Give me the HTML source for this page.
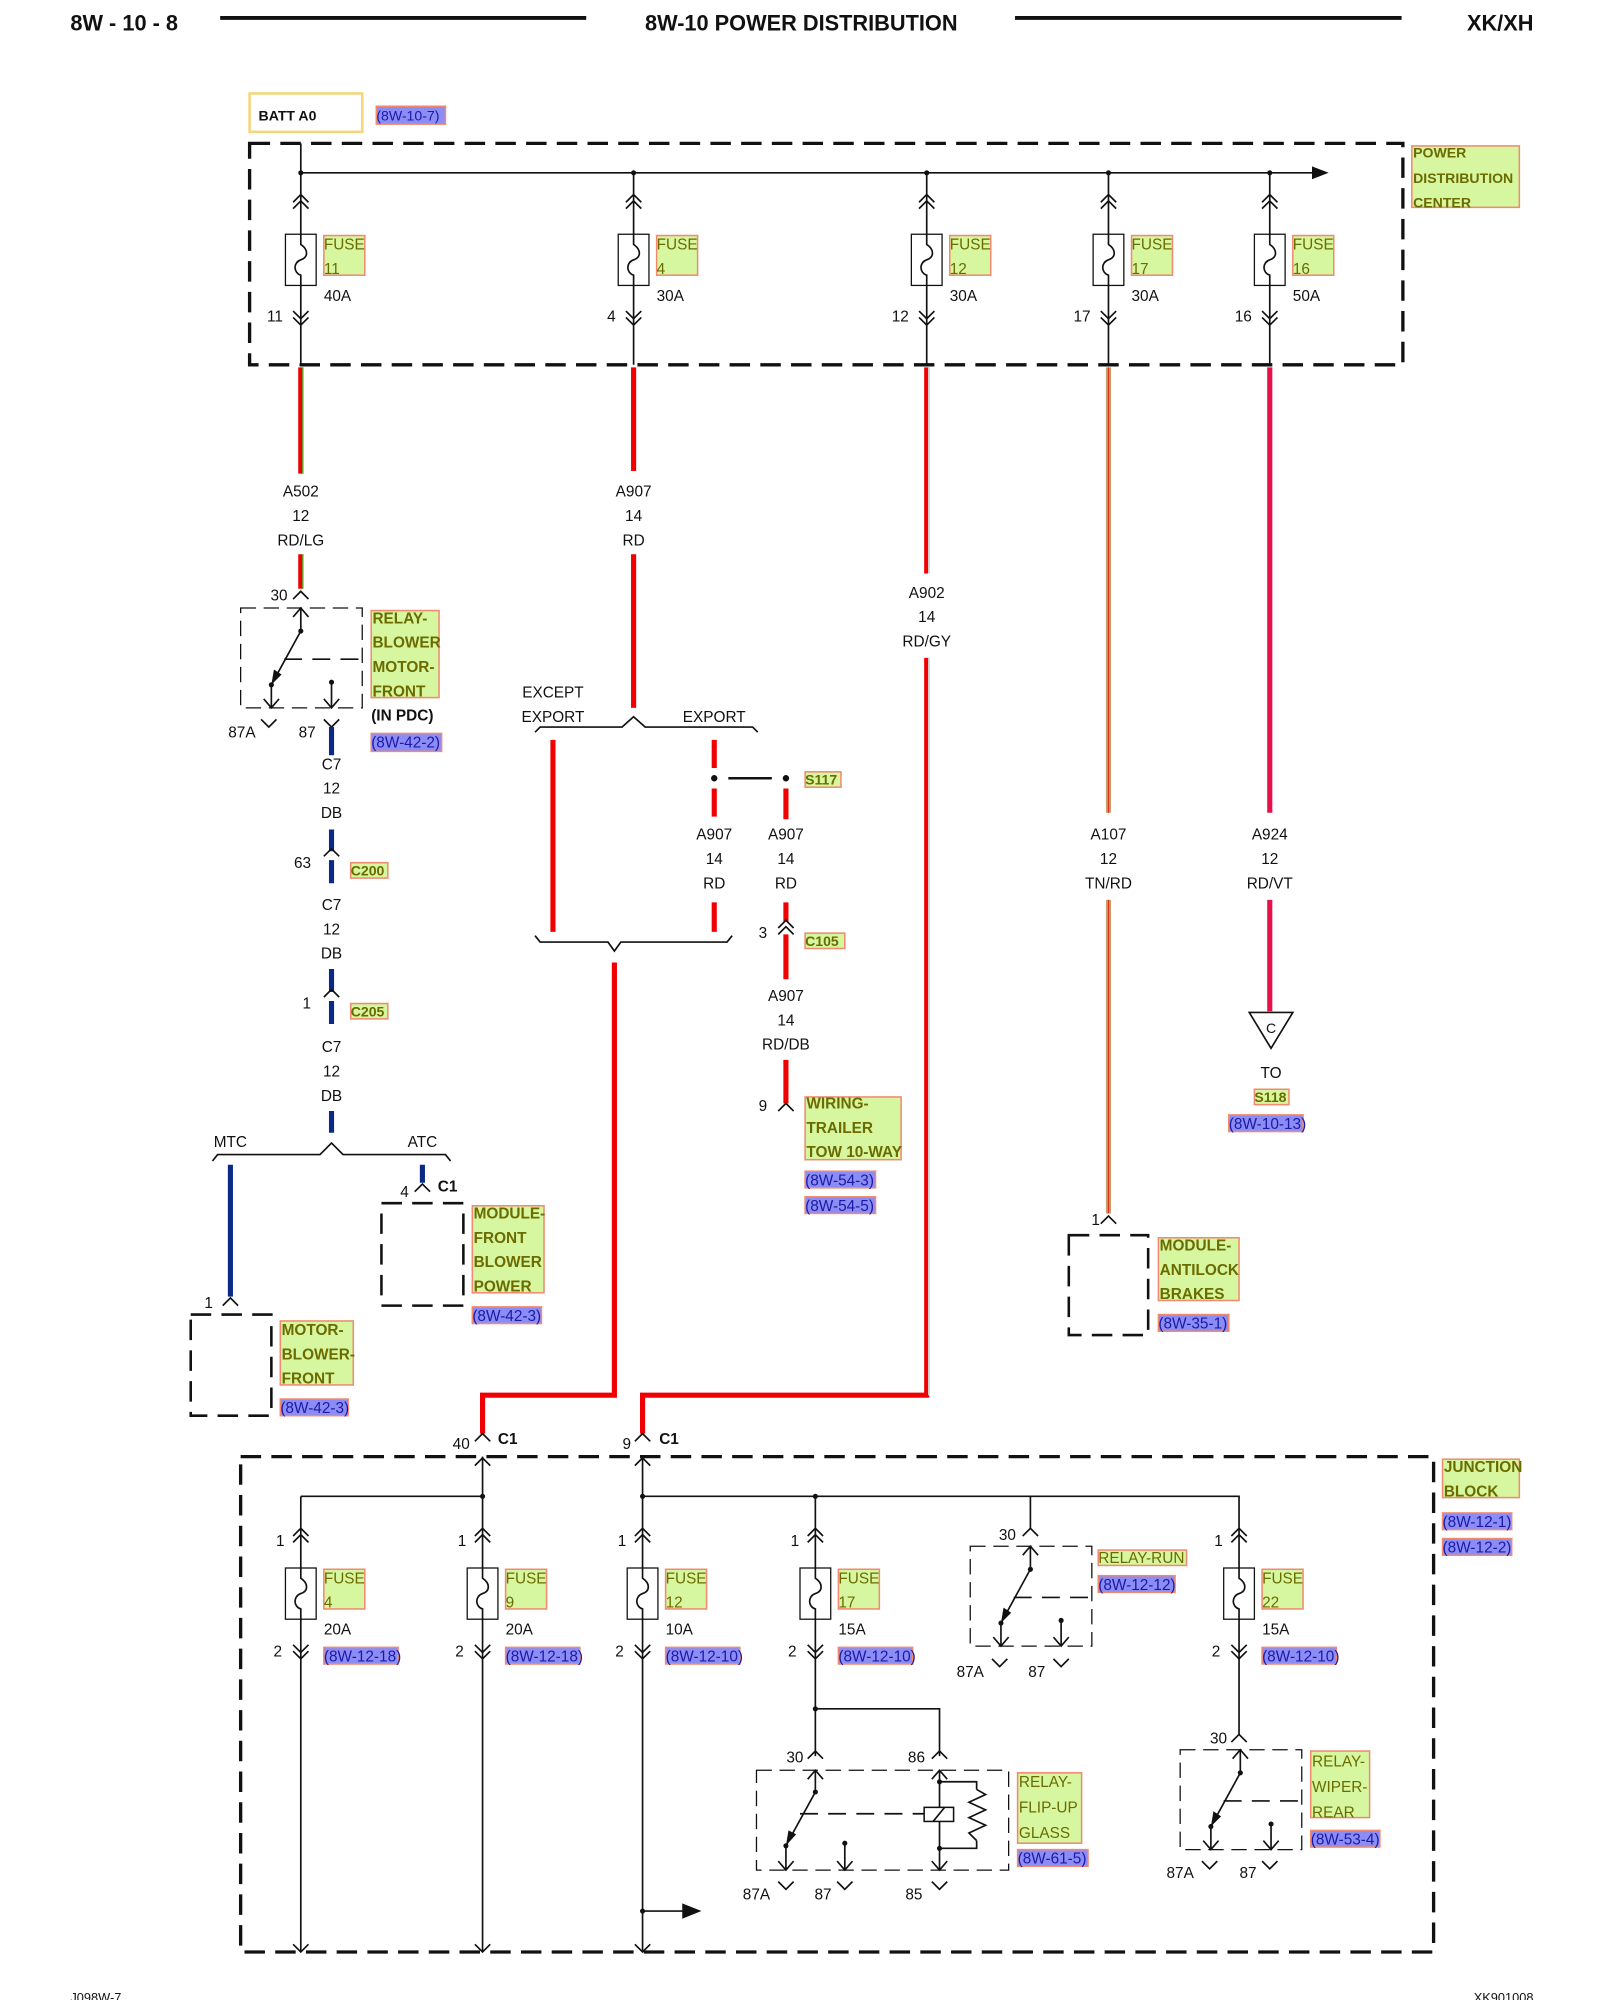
<!DOCTYPE html>
<html><head><meta charset="utf-8"><style>
html,body{margin:0;padding:0;background:#fff}
svg{display:block}
text{font-family:"Liberation Sans",Arial,sans-serif;font-size:12px;fill:#111}
.b{font-weight:bold}
.g{fill:#6b6b00}
.bl{fill:#1a1aa8}
.gb{fill:#d6f7a0;stroke:#f08a70;stroke-width:1.2}
.bb{fill:#8c8cf5;stroke:#f08a70;stroke-width:1.2}
.k{stroke:#111;stroke-width:1.3;fill:none}
.d{stroke:#111;stroke-width:1;fill:none;stroke-dasharray:12 6}
.D{stroke:#111;stroke-width:2.6;fill:none;stroke-dasharray:16 8}
.r{stroke:#f00000;stroke-width:4;fill:none}
.n{stroke:#0a2a86;stroke-width:4;fill:none}
</style></head><body>
<svg width="1600" height="2000" viewBox="0 0 1250 1562.5" xmlns="http://www.w3.org/2000/svg">
<defs>
<g id="cu"><path class="k" d="M-6,6 L0,0 L6,6 M-6,11 L0,5 L6,11"/></g>
<g id="cd"><path class="k" d="M-6,-6 L0,0 L6,-6 M-6,-11 L0,-5 L6,-11"/></g>
<g id="su"><path class="k" d="M-6,6 L0,0 L6,6"/></g>
<g id="sd"><path class="k" d="M-6,-6 L0,0 L6,-6"/></g>
<g id="fuse"><rect x="-12" y="0" width="24" height="40" fill="#fff" stroke="#111" stroke-width="1"/><path class="k" d="M0,0 V8 C6,12 6,18 0,20 C-6,22 -6,30 0,32 V40"/></g>
<g id="relay">
<path class="d" d="M0,0 H95 V78 H0 Z"/>
<path class="k" d="M47,0 V18 M47,18 L24,60 M24,60 V78 M71,58 V78"/>
<path d="M24,60 L26,48 L32,52 Z" fill="#111"/>
<path class="k" d="M41,7 L47,0 L53,7 M18,71 L24,78 L30,71 M65,71 L71,78 L77,71"/>
<circle cx="47" cy="18" r="2" fill="#111"/><circle cx="24" cy="60" r="2" fill="#111"/><circle cx="71" cy="58" r="2" fill="#111"/>
<path class="k" d="M34,40 H95" stroke-dasharray="14 8"/>
</g>
</defs>

<!-- header -->
<text x="55" y="24" class="b" style="font-size:17px">8W - 10 - 8</text>
<line x1="172" y1="14" x2="458" y2="14" stroke="#111" stroke-width="3"/>
<text x="626" y="24" class="b" text-anchor="middle" style="font-size:17px">8W-10 POWER DISTRIBUTION</text>
<line x1="793" y1="14" x2="1095" y2="14" stroke="#111" stroke-width="3"/>
<text x="1198" y="24" class="b" text-anchor="end" style="font-size:17px">XK/XH</text>
<text x="55" y="1564" style="font-size:10px">J098W-7</text>
<text x="1198" y="1564" text-anchor="end" style="font-size:10px">XK901008</text>

<!-- BATT -->
<rect x="195" y="73" width="88" height="30" fill="#fff" stroke="#f5d67a" stroke-width="2"/>
<text x="202" y="94" class="b" style="font-size:11px">BATT A0</text>
<rect class="bb" x="294" y="83" width="54" height="14"/><text x="294" y="94" class="bl" style="font-size:11px">(8W-10-7)</text>

<!-- PDC -->
<path class="D" d="M195,112 H1096 V285 H195 Z"/>
<rect class="gb" x="1103" y="114" width="84" height="48"/>
<text x="1104" y="123" class="g b" style="font-size:11px">POWER</text><text x="1104" y="143" class="g b" style="font-size:11px">DISTRIBUTION</text><text x="1104" y="162" class="g b" style="font-size:11px">CENTER</text>
<path class="k" d="M235,112 V135 H1025"/><path d="M1025,130 L1038,135 L1025,140 Z" fill="#111"/>

<!-- PDC fuses -->
<g>
<circle cx="235" cy="135" r="2" fill="#111"/><circle cx="495" cy="135" r="2" fill="#111"/><circle cx="724" cy="135" r="2" fill="#111"/><circle cx="866" cy="135" r="2" fill="#111"/><circle cx="992" cy="135" r="2" fill="#111"/>
<path class="k" d="M235,135 V285 M495,135 V285 M724,135 V285 M866,135 V285 M992,135 V285"/>
</g>
<g transform="translate(235,0)"><use href="#cu" y="152"/><use href="#fuse" y="183"/><use href="#cd" y="254"/><rect class="gb" x="18" y="184" width="32" height="31"/><text x="18" y="195" class="g">FUSE</text><text x="18" y="214" class="g">11</text><text x="18" y="235">40A</text><text x="-14" y="251" text-anchor="end">11</text></g>
<g transform="translate(495,0)"><use href="#cu" y="152"/><use href="#fuse" y="183"/><use href="#cd" y="254"/><rect class="gb" x="18" y="184" width="32" height="31"/><text x="18" y="195" class="g">FUSE</text><text x="18" y="214" class="g">4</text><text x="18" y="235">30A</text><text x="-14" y="251" text-anchor="end">4</text></g>
<g transform="translate(724,0)"><use href="#cu" y="152"/><use href="#fuse" y="183"/><use href="#cd" y="254"/><rect class="gb" x="18" y="184" width="32" height="31"/><text x="18" y="195" class="g">FUSE</text><text x="18" y="214" class="g">12</text><text x="18" y="235">30A</text><text x="-14" y="251" text-anchor="end">12</text></g>
<g transform="translate(866,0)"><use href="#cu" y="152"/><use href="#fuse" y="183"/><use href="#cd" y="254"/><rect class="gb" x="18" y="184" width="32" height="31"/><text x="18" y="195" class="g">FUSE</text><text x="18" y="214" class="g">17</text><text x="18" y="235">30A</text><text x="-14" y="251" text-anchor="end">17</text></g>
<g transform="translate(992,0)"><use href="#cu" y="152"/><use href="#fuse" y="183"/><use href="#cd" y="254"/><rect class="gb" x="18" y="184" width="32" height="31"/><text x="18" y="195" class="g">FUSE</text><text x="18" y="214" class="g">16</text><text x="18" y="235">50A</text><text x="-14" y="251" text-anchor="end">16</text></g>

<!-- A502 -->
<path class="r" d="M235,287 V370 M235,433 V460"/><path d="M236.5,287 V370 M236.5,433 V460" stroke="#5aa02a" stroke-width="1"/>
<text x="235" y="388" text-anchor="middle">A502</text><text x="235" y="407" text-anchor="middle">12</text><text x="235" y="426" text-anchor="middle">RD/LG</text>
<use href="#su" x="235" y="462"/><text x="218" y="469" text-anchor="middle">30</text>
<use href="#relay" x="188" y="475"/>
<rect class="gb" x="290" y="477" width="53" height="68"/>
<text x="291" y="487" class="g b">RELAY-</text><text x="291" y="506" class="g b">BLOWER</text><text x="291" y="525" class="g b">MOTOR-</text><text x="291" y="544" class="g b">FRONT</text>
<text x="290" y="563" class="b">(IN PDC)</text>
<rect class="bb" x="290" y="573" width="55" height="14"/><text x="290" y="584" class="bl">(8W-42-2)</text>
<use href="#sd" x="210" y="568"/><text x="189" y="576" text-anchor="middle">87A</text>
<use href="#sd" x="259" y="568"/><text x="240" y="576" text-anchor="middle">87</text>

<!-- C7 blue -->
<path class="n" d="M259,568 V590 M259,648 V665 M259,672 V690 M259,757 V775 M259,782 V800 M259,868 V885"/>
<text x="259" y="601" text-anchor="middle">C7</text><text x="259" y="620" text-anchor="middle">12</text><text x="259" y="639" text-anchor="middle">DB</text>
<use href="#su" x="259" y="663"/><text x="243" y="678" text-anchor="end">63</text>
<rect class="gb" x="274" y="674" width="29" height="12"/><text x="274" y="684" class="g b" style="font-size:11px">C200</text>
<text x="259" y="711" text-anchor="middle">C7</text><text x="259" y="730" text-anchor="middle">12</text><text x="259" y="749" text-anchor="middle">DB</text>
<use href="#su" x="259" y="773"/><text x="243" y="788" text-anchor="end">1</text>
<rect class="gb" x="274" y="784" width="29" height="12"/><text x="274" y="794" class="g b" style="font-size:11px">C205</text>
<text x="259" y="822" text-anchor="middle">C7</text><text x="259" y="841" text-anchor="middle">12</text><text x="259" y="860" text-anchor="middle">DB</text>
<path class="k" d="M166,907 L170,902 H250 L259,893 L268,902 H348 L352,907"/>
<text x="180" y="896" text-anchor="middle">MTC</text><text x="330" y="896" text-anchor="middle">ATC</text>
<path class="n" d="M180,910 V1013 M330,910 V924"/>
<use href="#su" x="180" y="1014"/><text x="163" y="1022" text-anchor="middle">1</text>
<path class="D" d="M149,1027 H212 V1106 H149 Z" style="stroke-width:2"/>
<rect class="gb" x="219" y="1032" width="57" height="50"/>
<text x="220" y="1043" class="g b">MOTOR-</text><text x="220" y="1062" class="g b">BLOWER-</text><text x="220" y="1081" class="g b">FRONT</text>
<rect class="bb" x="219" y="1093" width="53" height="13"/><text x="219" y="1104" class="bl">(8W-42-3)</text>
<use href="#su" x="330" y="925"/><text x="316" y="935" text-anchor="middle">4</text><text x="342" y="931" class="b">C1</text>
<path class="D" d="M298,940 H362 V1020 H298 Z" style="stroke-width:2"/>
<rect class="gb" x="369" y="942" width="56" height="68"/>
<text x="370" y="952" class="g b">MODULE-</text><text x="370" y="971" class="g b">FRONT</text><text x="370" y="990" class="g b">BLOWER</text><text x="370" y="1009" class="g b">POWER</text>
<rect class="bb" x="369" y="1021" width="54" height="13"/><text x="369" y="1032" class="bl">(8W-42-3)</text>

<!-- A907 -->
<path class="r" d="M495,287 V368 M495,433 V553"/>
<text x="495" y="388" text-anchor="middle">A907</text><text x="495" y="407" text-anchor="middle">14</text><text x="495" y="426" text-anchor="middle">RD</text>
<text x="432" y="545" text-anchor="middle">EXCEPT</text><text x="432" y="564" text-anchor="middle">EXPORT</text><text x="558" y="564" text-anchor="middle">EXPORT</text>
<path class="k" d="M418,572 L422,568 H486 L495,560 L504,568 H588 L592,572"/>
<path class="r" d="M432,578 V728"/>
<path class="r" d="M558,578 V600 M558,616 V638 M558,705 V728 M614,616 V640 M614,705 V720 M614,730 V765 M614,828 V862"/>
<circle cx="558" cy="608" r="2.5" fill="#111"/><circle cx="614" cy="608" r="2.5" fill="#111"/><path d="M569,608 H603" stroke="#111" stroke-width="2"/>
<rect class="gb" x="629" y="603" width="28" height="12"/><text x="629" y="613" class="g b" style="font-size:11px">S117</text>
<text x="558" y="656" text-anchor="middle">A907</text><text x="558" y="675" text-anchor="middle">14</text><text x="558" y="694" text-anchor="middle">RD</text>
<text x="614" y="656" text-anchor="middle">A907</text><text x="614" y="675" text-anchor="middle">14</text><text x="614" y="694" text-anchor="middle">RD</text>
<path class="k" d="M418,731 L422,736 H475 L480,743 L485,736 H568 L572,731"/>
<path class="r" d="M480,752 V1090 H377 V1120"/>
<use href="#cu" x="614" y="719"/><text x="596" y="733" text-anchor="middle">3</text>
<rect class="gb" x="629" y="729" width="31" height="12"/><text x="629" y="739" class="g b" style="font-size:11px">C105</text>
<text x="614" y="782" text-anchor="middle">A907</text><text x="614" y="801" text-anchor="middle">14</text><text x="614" y="820" text-anchor="middle">RD/DB</text>
<use href="#su" x="614" y="862"/><text x="596" y="868" text-anchor="middle">9</text>
<rect class="gb" x="629" y="857" width="75" height="49"/>
<text x="630" y="866" class="g b">WIRING-</text><text x="630" y="885" class="g b">TRAILER</text><text x="630" y="904" class="g b">TOW 10-WAY</text>
<rect class="bb" x="629" y="915" width="55" height="13"/><text x="629" y="926" class="bl">(8W-54-3)</text>
<rect class="bb" x="629" y="935" width="55" height="13"/><text x="629" y="946" class="bl">(8W-54-5)</text>

<!-- A902 -->
<path class="r" d="M724,287 V448 M724,514 V1090 H502 V1120"/>
<path d="M725.5,287 V448 M725.5,514 V1090" stroke="#ccc" stroke-width="1"/>
<text x="724" y="467" text-anchor="middle">A902</text><text x="724" y="486" text-anchor="middle">14</text><text x="724" y="505" text-anchor="middle">RD/GY</text>

<!-- A107 -->
<path d="M866,287 V635 M866,703 V948" stroke="#c8a06a" stroke-width="4" fill="none"/><path d="M866,287 V635 M866,703 V948" stroke="#e03020" stroke-width="1" fill="none"/>
<text x="866" y="656" text-anchor="middle">A107</text><text x="866" y="675" text-anchor="middle">12</text><text x="866" y="694" text-anchor="middle">TN/RD</text>
<use href="#su" x="866" y="950"/><text x="856" y="957" text-anchor="middle">1</text>
<path class="D" d="M835,965 H897 V1043 H835 Z" style="stroke-width:2"/>
<rect class="gb" x="905" y="967" width="63" height="49"/>
<text x="906" y="977" class="g b">MODULE-</text><text x="906" y="996" class="g b">ANTILOCK</text><text x="906" y="1015" class="g b">BRAKES</text>
<rect class="bb" x="905" y="1027" width="55" height="13"/><text x="905" y="1038" class="bl">(8W-35-1)</text>

<!-- A924 -->
<path d="M992,287 V635 M992,703 V790" stroke="#e8104a" stroke-width="4" fill="none"/>
<text x="992" y="656" text-anchor="middle">A924</text><text x="992" y="675" text-anchor="middle">12</text><text x="992" y="694" text-anchor="middle">RD/VT</text>
<path class="k" d="M976,791 H1010 L993,819 Z"/><text x="993" y="807" text-anchor="middle" style="font-size:11px">C</text>
<text x="993" y="842" text-anchor="middle">TO</text>
<rect class="gb" x="980" y="851" width="27" height="12"/><text x="980" y="861" class="g b" style="font-size:11px">S118</text>
<rect class="bb" x="960" y="871" width="58" height="13"/><text x="960" y="882" class="bl">(8W-10-13)</text>

<!-- Junction block -->
<use href="#su" x="377" y="1120"/><text x="367" y="1132" text-anchor="end">40</text><text x="389" y="1128" class="b">C1</text>
<use href="#su" x="502" y="1120"/><text x="493" y="1132" text-anchor="end">9</text><text x="515" y="1128" class="b">C1</text>
<path class="D" d="M188,1138 H1120 V1525 H188 Z"/>
<rect class="gb" x="1127" y="1140" width="60" height="30"/>
<text x="1128" y="1150" class="g b">JUNCTION</text><text x="1128" y="1169" class="g b">BLOCK</text>
<rect class="bb" x="1127" y="1182" width="54" height="13"/><text x="1127" y="1193" class="bl">(8W-12-1)</text>
<rect class="bb" x="1127" y="1202" width="54" height="13"/><text x="1127" y="1213" class="bl">(8W-12-2)</text>
<path class="k" d="M377,1138 V1525 M235,1169 H377 M235,1169 V1525 M502,1138 V1525 M502,1169 H968 V1355 M637,1169 V1372 M637,1335 H734 V1372 M805,1169 V1194 M502,1493 H535"/>
<path d="M533,1487 L548,1493 L533,1499 Z" fill="#111"/>
<circle cx="377" cy="1169" r="2" fill="#111"/><circle cx="502" cy="1169" r="2" fill="#111"/><circle cx="637" cy="1169" r="2" fill="#111"/><circle cx="637" cy="1335" r="2" fill="#111"/><circle cx="502" cy="1493" r="2" fill="#111"/>
<use href="#su" x="377" y="1139"/><use href="#su" x="502" y="1139"/>
<use href="#sd" x="235" y="1525"/><use href="#sd" x="377" y="1525"/><use href="#sd" x="502" y="1525"/>

<g transform="translate(235,0)"><use href="#cu" y="1194"/><use href="#fuse" y="1225"/><use href="#cd" y="1296"/><rect class="gb" x="18" y="1226" width="32" height="31"/><text x="18" y="1237" class="g">FUSE</text><text x="18" y="1256" class="g">4</text><text x="18" y="1277">20A</text><text x="-16" y="1208" text-anchor="middle">1</text><text x="-18" y="1294" text-anchor="middle">2</text><rect class="bb" x="18" y="1287" width="58" height="13"/><text x="18" y="1298" class="bl">(8W-12-18)</text></g>
<g transform="translate(377,0)"><use href="#cu" y="1194"/><use href="#fuse" y="1225"/><use href="#cd" y="1296"/><rect class="gb" x="18" y="1226" width="32" height="31"/><text x="18" y="1237" class="g">FUSE</text><text x="18" y="1256" class="g">9</text><text x="18" y="1277">20A</text><text x="-16" y="1208" text-anchor="middle">1</text><text x="-18" y="1294" text-anchor="middle">2</text><rect class="bb" x="18" y="1287" width="58" height="13"/><text x="18" y="1298" class="bl">(8W-12-18)</text></g>
<g transform="translate(502,0)"><use href="#cu" y="1194"/><use href="#fuse" y="1225"/><use href="#cd" y="1296"/><rect class="gb" x="18" y="1226" width="32" height="31"/><text x="18" y="1237" class="g">FUSE</text><text x="18" y="1256" class="g">12</text><text x="18" y="1277">10A</text><text x="-16" y="1208" text-anchor="middle">1</text><text x="-18" y="1294" text-anchor="middle">2</text><rect class="bb" x="18" y="1287" width="58" height="13"/><text x="18" y="1298" class="bl">(8W-12-10)</text></g>
<g transform="translate(637,0)"><use href="#cu" y="1194"/><use href="#fuse" y="1225"/><use href="#cd" y="1296"/><rect class="gb" x="18" y="1226" width="32" height="31"/><text x="18" y="1237" class="g">FUSE</text><text x="18" y="1256" class="g">17</text><text x="18" y="1277">15A</text><text x="-16" y="1208" text-anchor="middle">1</text><text x="-18" y="1294" text-anchor="middle">2</text><rect class="bb" x="18" y="1287" width="58" height="13"/><text x="18" y="1298" class="bl">(8W-12-10)</text></g>
<g transform="translate(968,0)"><use href="#cu" y="1194"/><use href="#fuse" y="1225"/><use href="#cd" y="1296"/><rect class="gb" x="18" y="1226" width="32" height="31"/><text x="18" y="1237" class="g">FUSE</text><text x="18" y="1256" class="g">22</text><text x="18" y="1277">15A</text><text x="-16" y="1208" text-anchor="middle">1</text><text x="-18" y="1294" text-anchor="middle">2</text><rect class="bb" x="18" y="1287" width="58" height="13"/><text x="18" y="1298" class="bl">(8W-12-10)</text></g>

<!-- relay run -->
<use href="#su" x="805" y="1194"/><text x="787" y="1203" text-anchor="middle">30</text>
<use href="#relay" x="758" y="1208"/>
<use href="#sd" x="781" y="1302"/><text x="758" y="1310" text-anchor="middle">87A</text>
<use href="#sd" x="829" y="1302"/><text x="810" y="1310" text-anchor="middle">87</text>
<rect class="gb" x="858" y="1211" width="69" height="12"/><text x="858" y="1221" class="g">RELAY-RUN</text>
<rect class="bb" x="858" y="1231" width="60" height="13"/><text x="858" y="1242" class="bl">(8W-12-12)</text>

<!-- relay wiper -->
<use href="#su" x="968" y="1355"/><text x="952" y="1362" text-anchor="middle">30</text>
<use href="#relay" x="922" y="1367"/>
<use href="#sd" x="945" y="1460"/><text x="922" y="1467" text-anchor="middle">87A</text>
<use href="#sd" x="992" y="1460"/><text x="975" y="1467" text-anchor="middle">87</text>
<rect class="gb" x="1024" y="1368" width="46" height="52"/>
<text x="1025" y="1380" class="g">RELAY-</text><text x="1025" y="1400" class="g">WIPER-</text><text x="1025" y="1420" class="g">REAR</text>
<rect class="bb" x="1024" y="1430" width="54" height="13"/><text x="1024" y="1441" class="bl">(8W-53-4)</text>

<!-- relay flip-up -->
<use href="#su" x="637" y="1368"/><text x="621" y="1377" text-anchor="middle">30</text>
<use href="#su" x="734" y="1368"/><text x="716" y="1377" text-anchor="middle">86</text>
<path class="d" d="M591,1383 H788 V1461 H591 Z"/>
<path class="k" d="M637,1383 V1400 L614,1442 V1461 M660,1440 V1461 M734,1383 V1461 M734,1392 H763 V1398 M763,1438 V1444 H734"/>
<path class="k" d="M763,1398 L770,1402 L757,1408 L770,1414 L757,1420 L770,1426 L757,1432 L763,1438"/>
<path class="k" d="M625,1417 H722" stroke-dasharray="14 8"/>
<rect x="722" y="1412" width="23" height="11" fill="#fff" stroke="#111" stroke-width="1.2"/><path class="k" d="M729,1423 L738,1412"/>
<path d="M614,1442 L616,1430 L622,1433 Z" fill="#111"/>
<path class="k" d="M631,1390 L637,1383 L643,1390 M728,1390 L734,1383 L740,1390 M608,1454 L614,1461 L620,1454 M654,1454 L660,1461 L666,1454 M728,1454 L734,1461 L740,1454"/>
<circle cx="637" cy="1400" r="2" fill="#111"/><circle cx="614" cy="1442" r="2" fill="#111"/><circle cx="660" cy="1440" r="2" fill="#111"/><circle cx="734" cy="1392" r="2" fill="#111"/><circle cx="734" cy="1444" r="2" fill="#111"/>
<use href="#sd" x="614" y="1476"/><text x="591" y="1484" text-anchor="middle">87A</text>
<use href="#sd" x="660" y="1476"/><text x="643" y="1484" text-anchor="middle">87</text>
<use href="#sd" x="734" y="1476"/><text x="714" y="1484" text-anchor="middle">85</text>
<rect class="gb" x="795" y="1385" width="50" height="55"/>
<text x="796" y="1396" class="g">RELAY-</text><text x="796" y="1416" class="g">FLIP-UP</text><text x="796" y="1436" class="g">GLASS</text>
<rect class="bb" x="795" y="1445" width="55" height="13"/><text x="795" y="1456" class="bl">(8W-61-5)</text>
</svg>
</body></html>
